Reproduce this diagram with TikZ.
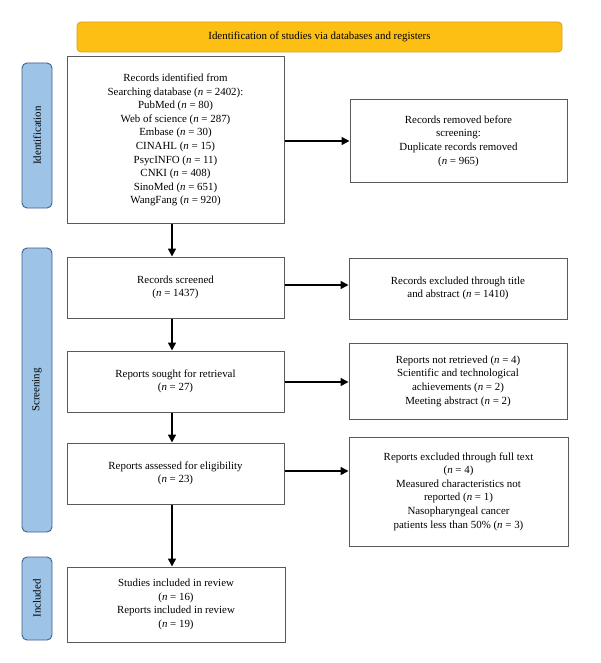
\documentclass[tikz,border=0pt]{standalone}
\usepackage{fontspec}
\setmainfont{Liberation Serif}
\usetikzlibrary{arrows.meta}
\definecolor{bannerfill}{HTML}{FDBF13}
\definecolor{bannerdraw}{HTML}{D9A21C}
\definecolor{phasefill}{HTML}{9DC3E6}
\definecolor{phasedraw}{HTML}{41608A}
\definecolor{boxdraw}{HTML}{5A5A5A}
\begin{document}
\begin{tikzpicture}[x=1pt,y=-1pt,
  every node/.style={font=\fontsize{10.9}{13.6}\selectfont},
  flowbox/.style={draw=boxdraw,line width=1pt,fill=white,inner sep=0pt,align=center,anchor=center},
  phase/.style={draw=phasedraw,line width=0.9pt,fill=phasefill,rounded corners=5pt,inner sep=0pt,anchor=center,minimum width=30pt},
  phasetext/.style={rotate=90,anchor=center,inner sep=0pt},
  flowarrow/.style={line width=1.6pt,-{Triangle[length=8pt,width=8pt]}}]
\useasboundingbox (0,0) rectangle (600,663);
\fill[white] (0,0) rectangle (600,663);

% banner
\node[draw=bannerdraw,line width=0.8pt,fill=bannerfill,rounded corners=4pt,minimum width=485pt,minimum height=30pt,inner sep=0pt] (banner) at (319.5,37) {Identification of studies via databases and registers};

% phase labels
\node[phase,minimum height=145pt] (pid) at (37,135.5) {};
\node[phasetext] (pidt) at (pid.center) {Identification};
\node[phase,minimum height=284pt] (pscr) at (37,390) {};
\node[phasetext] (pscrt) at (pscr.center) {Screening};
\node[phase,minimum height=83pt] (pinc) at (37,598.5) {};
\node[phasetext] (pinct) at (pinc.center) {Included};

% boxes
\node[flowbox,minimum width=217pt,minimum height=166pt] (ident) at (175.5,140)
 {Records identified from\\Searching database (\textit{n} = 2402):\\PubMed (\textit{n} = 80)\\Web of science (\textit{n} = 287)\\Embase (\textit{n} = 30)\\CINAHL (\textit{n} = 15)\\PsycINFO (\textit{n} = 11)\\CNKI (\textit{n} = 408)\\SinoMed (\textit{n} = 651)\\WangFang (\textit{n} = 920)};
\node[flowbox,minimum width=217pt,minimum height=82pt] (removed) at (458.5,141)
 {Records removed before\\screening:\\Duplicate records removed\\(\textit{n} = 965)};
\node[flowbox,minimum width=217pt,minimum height=61pt] (screened) at (175.5,287.5)
 {Records screened\\(\textit{n} = 1437)};
\node[flowbox,minimum width=218pt,minimum height=61pt] (excluded) at (458,288.5)
 {Records excluded through title\\and abstract (\textit{n} = 1410)};
\node[flowbox,minimum width=217pt,minimum height=61pt] (sought) at (175.5,381.5)
 {Reports sought for retrieval\\(\textit{n} = 27)};
\node[flowbox,minimum width=218pt,minimum height=76pt] (notret) at (458,381)
 {Reports not retrieved (\textit{n} = 4)\\Scientific and technological\\achievements (\textit{n} = 2)\\Meeting abstract (\textit{n} = 2)};
\node[flowbox,minimum width=217pt,minimum height=61pt] (assessed) at (175.5,473.5)
 {Reports assessed for eligibility\\(\textit{n} = 23)};
\node[flowbox,minimum width=219pt,minimum height=109pt] (fulltext) at (458.5,491.5)
 {Reports excluded through full text\\(\textit{n} = 4)\\Measured characteristics not\\reported (\textit{n} = 1)\\Nasopharyngeal cancer\\patients less than 50\% (\textit{n} = 3)};
\node[flowbox,minimum width=218pt,minimum height=75pt] (included) at (176,604.5)
 {Studies included in review\\(\textit{n} = 16)\\Reports included in review\\(\textit{n} = 19)};

% arrows
\draw[flowarrow] ([xshift=-3.5pt]ident.south) -- ([xshift=-3.5pt]screened.north);
\draw[flowarrow] ([xshift=-3.5pt]screened.south) -- ([xshift=-3.5pt]sought.north);
\draw[flowarrow] ([xshift=-3.5pt]sought.south) -- ([xshift=-3.5pt]assessed.north);
\draw[flowarrow] ([xshift=-3.5pt]assessed.south) -- ([xshift=-4pt]included.north);
\draw[flowarrow] (ident.east |- removed.west) -- (removed.west);
\draw[flowarrow] ([yshift=2.5pt]screened.east) -- ([yshift=2.5pt]screened.east -| excluded.west);
\draw[flowarrow] ([yshift=-0.5pt]sought.east) -- ([yshift=-0.5pt]sought.east -| notret.west);
\draw[flowarrow] ([yshift=2.5pt]assessed.east) -- ([yshift=2.5pt]assessed.east -| fulltext.west);
\end{tikzpicture}
\end{document}
